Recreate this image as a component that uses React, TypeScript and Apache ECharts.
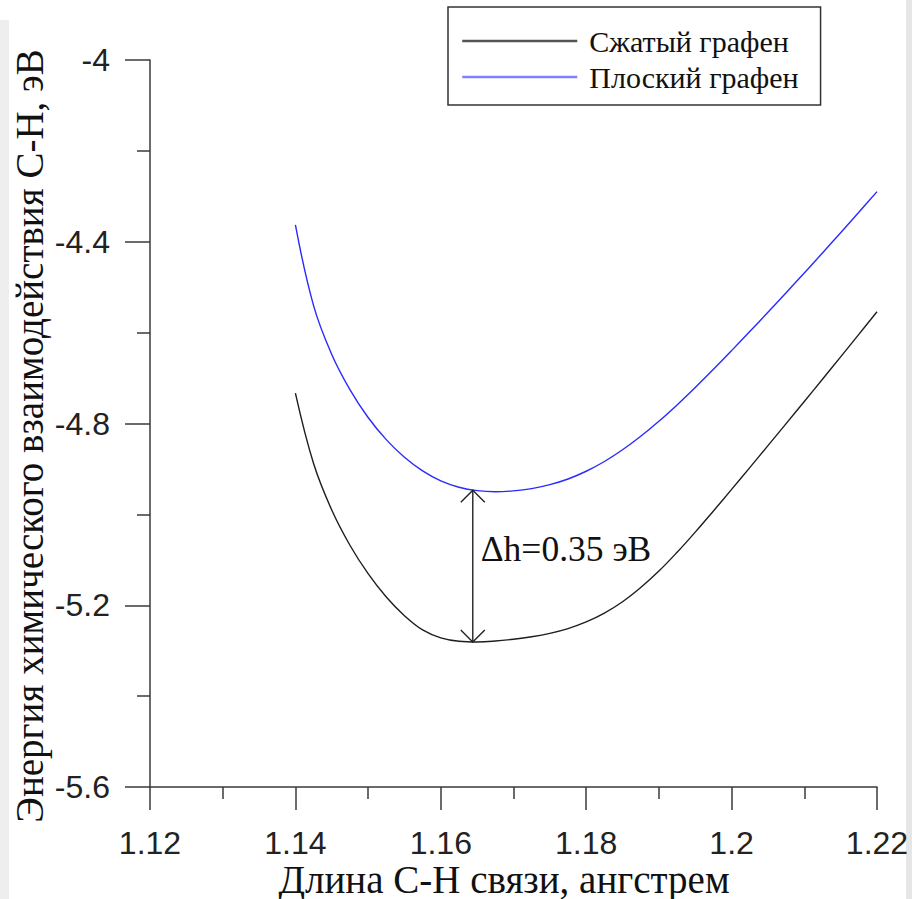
import React, { useEffect, useRef } from 'react';
import * as echarts from 'echarts';

// Bond length, Å (shared x grid for both curves)
const bondLength = [
  1.14, 1.1425, 1.145, 1.1475, 1.15, 1.1525, 1.155, 1.1575, 1.16, 1.1625, 1.165,
  1.1675, 1.17, 1.1725, 1.175, 1.1775, 1.18, 1.1825, 1.185, 1.1875, 1.19, 1.1925,
  1.195, 1.1975, 1.2, 1.2025, 1.205, 1.2075, 1.21, 1.2125, 1.215, 1.2175, 1.22,
];

// Сжатый графен (compressed graphene), eV
const compressedEnergy = [
  -4.733, -4.888, -4.9905, -5.068, -5.1305, -5.1818, -5.223, -5.2543, -5.2718, -5.2793, -5.2808,
  -5.2788, -5.2748, -5.2693, -5.2618, -5.2513, -5.2368, -5.2173, -5.1923, -5.161, -5.1248, -5.0835,
  -5.039, -4.9925, -4.945, -4.897, -4.8488, -4.8003, -4.7515, -4.7025, -4.6533, -4.6038, -4.554,
];

// Плоский графен (flat graphene), eV
const flatEnergy = [
  -4.363, -4.5405, -4.648, -4.7255, -4.7868, -4.8355, -4.8743, -4.9043, -4.9263, -4.9403, -4.9478,
  -4.9503, -4.9483, -4.9433, -4.9346, -4.9221, -4.9051, -4.8836, -4.8578, -4.8281, -4.7951, -4.7591,
  -4.7208, -4.6808, -4.6396, -4.5976, -4.5551, -4.5121, -4.4686, -4.4246, -4.3801, -4.3351, -4.2896,
];

// Δh annotation: x position, top (flat min), bottom (compressed min)
const deltaX = 1.1644;
const deltaTop = -4.947;
const deltaBottom = -5.281;
const deltaLabel = 'Δh=0.35 эВ';

const seriesNames = ['Сжатый графен', 'Плоский графен'];
const xTitle = 'Длина С-Н связи, ангстрем';
const yTitle = 'Энергия химического взаимодействия С-Н, эВ';

const SANS = '"Liberation Sans", Arial, sans-serif';
const SERIF = '"Liberation Serif", "Times New Roman", serif';

export default function App() {
  const ref = useRef<HTMLDivElement>(null);
  useEffect(() => {
    const chart = echarts.init(ref.current!, null, { renderer: 'svg' });
    const axisColor = '#3a3a3a';
    chart.setOption({
      animation: false,
      backgroundColor: '#fff',
      grid: { left: 150, top: 60, right: 35, bottom: 112 },
      legend: {
        orient: 'vertical',
        left: 448,
        top: 7,
        data: [
          { name: seriesNames[0], itemStyle: { opacity: 0 }, lineStyle: { color: '#555', width: 2.5 } },
          { name: seriesNames[1], itemStyle: { opacity: 0 }, lineStyle: { color: '#7f7fff', width: 2.5 } },
        ],
        itemWidth: 115,
        itemHeight: 20,
        itemGap: 6,
        padding: [19, 22, 13, 13],
        borderColor: '#333',
        borderWidth: 1.5,
        textStyle: {
          fontFamily: SERIF,
          fontSize: 30,
          color: '#111',
          lineHeight: 30,
          padding: [0, 0, 0, 7],
        },
      },
      xAxis: {
        type: 'value',
        min: 1.12,
        max: 1.22,
        interval: 0.02,
        axisLine: { onZero: false, lineStyle: { color: axisColor, width: 1.5 } },
        axisTick: { length: 23, lineStyle: { color: axisColor, width: 1.5 } },
        minorTick: { show: true, splitNumber: 2, length: 12, lineStyle: { color: axisColor, width: 1.5 } },
        splitLine: { show: false },
        axisLabel: {
          margin: 40,
          fontFamily: SANS,
          fontSize: 32,
          color: '#222',
          formatter: (v: number) => String(+v.toFixed(2)),
        },
      },
      yAxis: {
        type: 'value',
        min: -5.6,
        max: -4,
        interval: 0.4,
        axisLine: { show: true, onZero: false, lineStyle: { color: axisColor, width: 1.5 } },
        axisTick: { show: true, length: 25, lineStyle: { color: axisColor, width: 1.5 } },
        minorTick: { show: true, splitNumber: 2, length: 13, lineStyle: { color: axisColor, width: 1.5 } },
        splitLine: { show: false },
        axisLabel: {
          margin: 40,
          fontFamily: SANS,
          fontSize: 32,
          color: '#222',
          formatter: (v: number) => String(+v.toFixed(1)),
        },
      },
      series: [
        {
          name: seriesNames[0],
          type: 'line',
          data: bondLength.map((x, i) => [x, compressedEnergy[i]]),
          showSymbol: false,
          symbol: 'none',
          smooth: 0.4,
          lineStyle: { color: '#1e1e1e', width: 1.4 },
          itemStyle: { color: '#1e1e1e' },
        },
        {
          name: seriesNames[1],
          type: 'line',
          data: bondLength.map((x, i) => [x, flatEnergy[i]]),
          showSymbol: false,
          symbol: 'none',
          smooth: 0.4,
          lineStyle: { color: '#2a2aff', width: 1.4 },
          itemStyle: { color: '#2a2aff' },
        },
        {
          type: 'custom',
          name: 'delta',
          data: [[deltaX, deltaTop, deltaBottom]],
          encode: { x: 0, y: [1, 2] },
          renderItem: (params: any, api: any) => {
            const top = api.coord([api.value(0), api.value(1)]);
            const bot = api.coord([api.value(0), api.value(2)]);
            const a = 12;
            const mid = api.coord([api.value(0), (api.value(1) + api.value(2)) / 2]);
            const st = { stroke: '#222', lineWidth: 1.4, fill: 'none' };
            return {
              type: 'group',
              children: [
                { type: 'line', shape: { x1: top[0], y1: top[1], x2: bot[0], y2: bot[1] }, style: st },
                { type: 'polyline', shape: { points: [[top[0] - a, top[1] + a], [top[0], top[1]], [top[0] + a, top[1] + a]] }, style: st },
                { type: 'polyline', shape: { points: [[bot[0] - a, bot[1] - a], [bot[0], bot[1]], [bot[0] + a, bot[1] - a]] }, style: st },
                {
                  type: 'text',
                  x: top[0] + 8,
                  y: mid[1] - 17,
                  style: {
                    text: deltaLabel,
                    fontFamily: SERIF,
                    fontSize: 35.5,
                    fill: '#111',
                    textAlign: 'left',
                    textVerticalAlign: 'middle',
                  },
                },
              ],
            };
          },
          silent: true,
          z: 5,
        },
      ],
      graphic: [
        { type: 'rect', left: 0, top: 20, shape: { width: 9, height: 879 }, style: { fill: '#eeeeee' }, silent: true },
        { type: 'rect', left: 906, top: 0, shape: { width: 6, height: 899 }, style: { fill: '#e6e6e6' }, silent: true },
        {
          type: 'text',
          x: 29,
          y: 436,
          rotation: Math.PI / 2,
          style: {
            text: yTitle,
            fontFamily: SERIF,
            fontSize: 39,
            fill: '#111',
            textAlign: 'center',
            textVerticalAlign: 'middle',
          },
        },
        {
          type: 'text',
          x: 504,
          y: 879,
          style: {
            text: xTitle,
            fontFamily: SERIF,
            fontSize: 39,
            fill: '#111',
            textAlign: 'center',
            textVerticalAlign: 'middle',
          },
        },
      ],
    });
    return () => chart.dispose();
  }, []);
  return (
    <div
      ref={ref}
      style={{ position: 'fixed', left: 0, top: 0, width: 912, height: 899, background: '#fff' }}
    />
  );
}
